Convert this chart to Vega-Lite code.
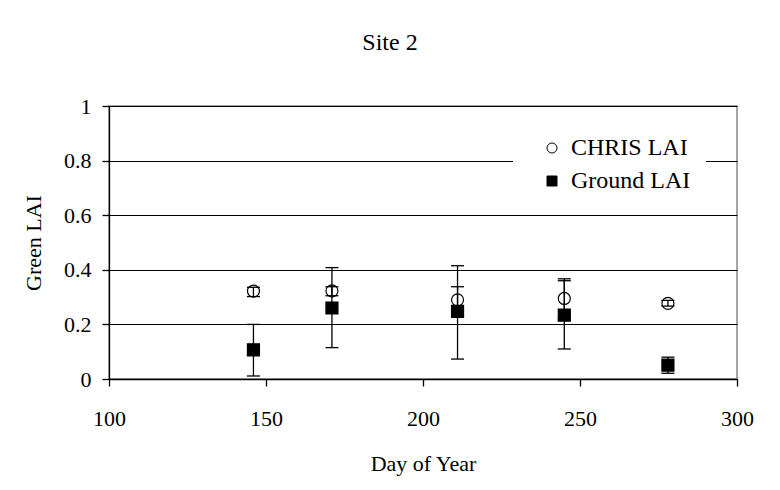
{
  "$schema": "https://vega.github.io/schema/vega-lite/v6.json",
  "width": 628,
  "height": 273,
  "autosize": {"type": "none"},
  "padding": {"left": 109, "top": 106, "right": 43, "bottom": 111},
  "background": "white",
  "title": {"text": "Site 2", "font": "Liberation Serif", "fontSize": 24, "fontWeight": "normal", "color": "black", "anchor": "middle", "dx": -33, "offset": 40},
  "data": {
    "values": [
      {"day": 146, "series": "CHRIS LAI", "value": 0.322, "lo": 0.302, "hi": 0.336},
      {"day": 171, "series": "CHRIS LAI", "value": 0.323, "lo": 0.305, "hi": 0.338},
      {"day": 211, "series": "CHRIS LAI", "value": 0.290, "lo": 0.242, "hi": 0.338},
      {"day": 245, "series": "CHRIS LAI", "value": 0.295, "lo": 0.223, "hi": 0.367},
      {"day": 278, "series": "CHRIS LAI", "value": 0.277, "lo": 0.267, "hi": 0.288},
      {"day": 146, "series": "Ground LAI", "value": 0.107, "lo": 0.011, "hi": 0.200},
      {"day": 171, "series": "Ground LAI", "value": 0.260, "lo": 0.115, "hi": 0.408},
      {"day": 211, "series": "Ground LAI", "value": 0.248, "lo": 0.073, "hi": 0.415},
      {"day": 245, "series": "Ground LAI", "value": 0.234, "lo": 0.110, "hi": 0.360},
      {"day": 278, "series": "Ground LAI", "value": 0.051, "lo": 0.021, "hi": 0.080}
    ]
  },
  "encoding": {
    "x": {"field": "day", "type": "quantitative", "scale": {"domain": [100, 300], "nice": false, "zero": false},
      "axis": {"title": "Day of Year", "values": [100, 150, 200, 250, 300], "grid": false, "titlePadding": 24,
        "labelFont": "Liberation Serif", "labelFontSize": 22, "labelPadding": 22, "labelFlush": false, "labelColor": "black"}}
  },
  "layer": [
    {
      "mark": {"type": "point", "filled": true, "strokeWidth": 1.2, "size": 144, "opacity": 1},
      "encoding": {
        "y": {"field": "value", "type": "quantitative", "scale": {"domain": [0, 1], "nice": false},
          "axis": {"title": "Green LAI", "values": [0, 0.2, 0.4, 0.6, 0.8, 1], "format": "~g", "grid": true, "titlePadding": 18,
            "labelFont": "Liberation Serif", "labelFontSize": 22, "labelPadding": 11, "labelColor": "black"}},
        "shape": {"field": "series", "type": "nominal", "scale": {"domain": ["CHRIS LAI", "Ground LAI"], "range": ["circle", "square"]}, "title": null},
        "fill": {"field": "series", "type": "nominal", "scale": {"domain": ["CHRIS LAI", "Ground LAI"], "range": ["white", "black"]}, "title": null},
        "stroke": {"field": "series", "type": "nominal", "scale": {"domain": ["CHRIS LAI", "Ground LAI"], "range": ["black", "black"]}, "title": null,
          "legend": {"labelFont": "Liberation Serif", "labelFontSize": 24, "labelColor": "black"}}
      }
    },
    {
      "mark": {"type": "rule", "color": "black", "strokeWidth": 1.3},
      "encoding": {
        "y": {"field": "lo", "type": "quantitative"},
        "y2": {"field": "hi"}
      }
    },
    {
      "mark": {"type": "tick", "orient": "horizontal", "color": "black", "size": 13, "thickness": 1.3, "opacity": 1},
      "encoding": {"y": {"field": "lo", "type": "quantitative"}}
    },
    {
      "mark": {"type": "tick", "orient": "horizontal", "color": "black", "size": 13, "thickness": 1.3, "opacity": 1},
      "encoding": {"y": {"field": "hi", "type": "quantitative"}}
    }
  ],
  "config": {
    "font": "Liberation Serif",
    "view": {"stroke": "#888888", "strokeWidth": 1.5},
    "axis": {
      "domainColor": "black", "domainWidth": 1.3, "tickColor": "black", "tickWidth": 1.3, "tickSize": 7,
      "titleFont": "Liberation Serif", "titleFontSize": 22, "titleFontWeight": "normal", "titleColor": "black",
      "gridColor": "black", "gridWidth": 1, "gridOpacity": 1
    },
    "legend": {
      "orient": "none", "legendX": 404, "legendY": 15, "fillColor": "white", "padding": 15,
      "symbolOffset": 12, "symbolSize": 100, "symbolStrokeWidth": 1,
      "labelFont": "Liberation Serif", "labelFontSize": 24, "labelColor": "black", "labelOffset": 7, "rowPadding": 9
    }
  }
}
